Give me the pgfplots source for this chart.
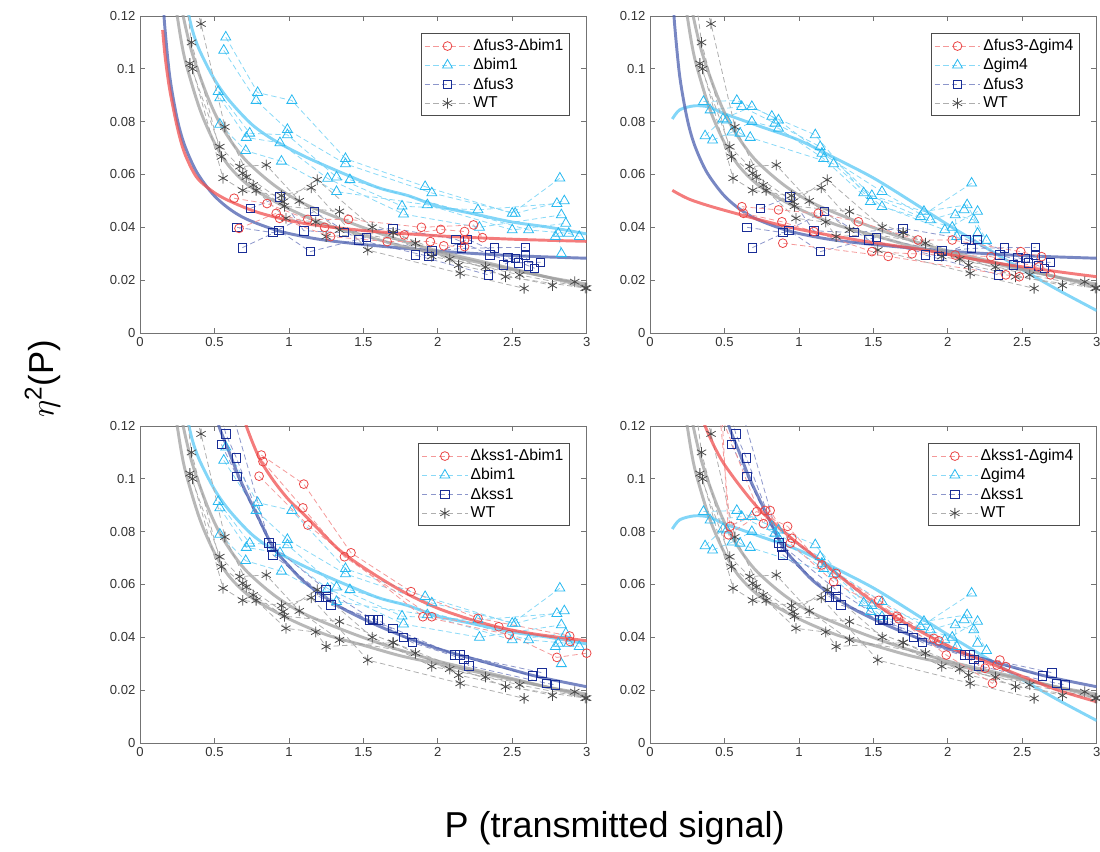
\documentclass[border=0pt]{standalone}
\usepackage{fontspec}
\setmainfont{Liberation Sans}
\usepackage{pgfplots}
\pgfplotsset{compat=1.18}

\definecolor{cred}{RGB}{235,70,70}
\definecolor{ccyan}{RGB}{40,185,240}
\definecolor{cblue}{RGB}{25,45,150}
\definecolor{cgray}{RGB}{75,75,75}
\definecolor{fred}{RGB}{240,80,80}
\definecolor{fcyan}{RGB}{90,200,245}
\definecolor{fblue}{RGB}{75,95,175}
\definecolor{fgray}{RGB}{160,160,160}

\pgfplotsset{
  rep/.style={dashed, dash pattern=on 4pt off 2.5pt, line width=0.6pt},
  repR/.style={rep, draw=cred!55, mark=o, mark size=3.3pt, mark options={solid, draw=cred, line width=0.6pt}},
  repC/.style={rep, draw=ccyan!55, mark=triangle, mark size=4.3pt, mark options={solid, draw=ccyan, line width=0.6pt}},
  repB/.style={rep, draw=cblue!50, mark=square, mark size=3.2pt, mark options={solid, draw=cblue, line width=0.6pt}},
  repG/.style={rep, draw=cgray!45, mark=asterisk, mark size=4pt, mark options={solid, draw=cgray, line width=0.6pt}},
  fit/.style={line width=2.2pt, smooth, draw opacity=0.75, no marks},
  fitR/.style={fit, draw=fred},
  fitC/.style={fit, draw=fcyan},
  fitB/.style={fit, draw=fblue},
  fitG/.style={fit, draw=fgray},
  panel/.style={
    scale only axis, width=335pt, height=237.75pt,
    xmin=0, xmax=3, ymin=0, ymax=0.12,
    xtick={0,0.5,1,1.5,2,2.5,3}, xticklabels={0,0.5,1,1.5,2,2.5,3},
    ytick={0,0.02,0.04,0.06,0.08,0.1,0.12}, yticklabels={0,0.02,0.04,0.06,0.08,0.1,0.12},
    tick align=inside, major tick length=4pt,
    axis line style={black!55}, tick style={black!55, line width=0.5pt},
    tick label style={font=\fontsize{9.8}{11}\selectfont, text=black!80},
    legend style={at={(0.962,0.946)}, anchor=north east, draw=black!70, fill=white,
      font=\fontsize{11.8}{13}\selectfont, inner sep=2.5pt, row sep=0.3pt},
    legend cell align=left,
    legend image code/.code={\draw[mark repeat=2,mark phase=2] plot coordinates {(0cm,0cm) (0.6cm,0cm) (1.2cm,0cm)};},
  },
}

% ---------- WT (all panels) ----------
\newcommand{\plotWT}{%
\addplot[repG, forget plot] coordinates {(0.32,0.135) (0.41,0.117) (0.57,0.078) (0.76,0.056) (0.97,0.048) (1.34,0.046) (1.70,0.038) (2.08,0.028) (2.55,0.022) (3.0,0.017)};
\addplot[repG, forget plot] coordinates {(0.30,0.13) (0.346,0.110) (0.547,0.0667) (0.69,0.0605) (0.96,0.0497) (1.19,0.058) (1.56,0.040) (1.96,0.029) (2.32,0.025) (2.92,0.0194)};
\addplot[repG, forget plot] coordinates {(0.335,0.102) (0.536,0.0705) (0.67,0.063) (0.848,0.0636) (1.07,0.050) (1.34,0.039) (1.85,0.034) (2.14,0.0257) (2.77,0.018)};
\addplot[repG, forget plot] coordinates {(0.353,0.100) (0.558,0.0586) (0.69,0.054) (0.95,0.052) (1.15,0.055) (1.53,0.0314) (2.15,0.0226) (2.58,0.0169)};
\addplot[repG, forget plot] coordinates {(0.714,0.059) (0.78,0.054) (0.98,0.0434) (1.18,0.042) (1.25,0.0365) (1.70,0.038) (2.455,0.0213) (2.99,0.017)};
\addplot[fitG, forget plot] coordinates {(0.24,0.125) (0.25,0.12) (0.3,0.104) (0.4,0.085) (0.5,0.072) (0.6,0.063) (0.75,0.055) (1.0,0.047) (1.25,0.041) (1.5,0.037) (1.75,0.033) (2.0,0.030) (2.25,0.027) (2.5,0.024) (2.75,0.021) (3.0,0.0185)};
\addplot[fitG, forget plot] coordinates {(0.28,0.125) (0.29,0.12) (0.35,0.106) (0.45,0.09) (0.55,0.078) (0.7,0.066) (0.9,0.056) (1.1,0.049) (1.4,0.042) (1.7,0.036) (2.0,0.031) (2.3,0.027) (2.6,0.023) (3.0,0.0175)};
}

% ---------- Delta bim1 ----------
\newcommand{\plotBim}{%
\addplot[repC, forget plot] coordinates {(0.576,0.112) (0.79,0.091) (1.02,0.088) (1.38,0.066) (1.915,0.0554) (2.5,0.0453) (2.82,0.0586)};
\addplot[repC, forget plot] coordinates {(0.5625,0.107) (0.78,0.088) (0.99,0.077) (1.38,0.064) (1.96,0.053) (2.52,0.0453) (2.85,0.050)};
\addplot[repC, forget plot] coordinates {(0.525,0.0914) (0.737,0.0756) (0.99,0.075) (1.32,0.059) (1.76,0.048) (2.27,0.0466) (2.80,0.049)};
\addplot[repC, forget plot] coordinates {(0.536,0.089) (0.714,0.074) (0.94,0.072) (1.26,0.0585) (1.77,0.045) (2.28,0.040) (2.83,0.0447)};
\addplot[repC, forget plot] coordinates {(0.536,0.079) (0.71,0.069) (0.95,0.065) (1.32,0.0535) (1.93,0.0485) (2.5,0.039) (2.86,0.0415)};
\addplot[repC, forget plot] coordinates {(1.41,0.058) (2.61,0.039) (2.88,0.0377) (2.95,0.0365)};
\addplot[repC, forget plot] coordinates {(2.79,0.0365) (2.81,0.0377) (2.83,0.030)};
\addplot[fitC, forget plot] coordinates {(0.31,0.125) (0.35,0.115) (0.4,0.107) (0.5,0.096) (0.6,0.088) (0.75,0.079) (0.9,0.073) (1.1,0.067) (1.34,0.061) (1.6,0.055) (1.8,0.052) (2.0,0.048) (2.25,0.045) (2.5,0.042) (2.75,0.040) (3.0,0.0375)};
}

% ---------- Delta gim4 ----------
\newcommand{\plotGim}{%
\addplot[repC, forget plot] coordinates {(0.359,0.0876) (0.583,0.088) (0.818,0.082) (1.11,0.075) (1.435,0.053) (1.816,0.044) (2.16,0.0567)};
\addplot[repC, forget plot] coordinates {(0.404,0.0844) (0.616,0.0857) (0.84,0.0794) (1.143,0.0705) (1.49,0.052) (1.84,0.046) (2.13,0.0485) (2.26,0.035)};
\addplot[repC, forget plot] coordinates {(0.37,0.0746) (0.49,0.081) (0.684,0.0857) (0.863,0.0806) (1.155,0.068) (1.558,0.0535) (1.883,0.0428) (2.11,0.0466)};
\addplot[repC, forget plot] coordinates {(0.42,0.073) (0.55,0.076) (0.684,0.080) (0.863,0.0775) (1.166,0.066) (1.48,0.0497) (1.98,0.039) (2.2,0.046)};
\addplot[repC, forget plot] coordinates {(0.516,0.0806) (0.605,0.0756) (0.673,0.074) (1.233,0.064) (1.558,0.0478) (2.03,0.040) (2.06,0.0365) (2.05,0.0447) (2.175,0.0428) (2.2,0.0377)};
\addplot[fitC, forget plot] coordinates {(0.15,0.081) (0.2,0.0845) (0.3,0.086) (0.4,0.0855) (0.5,0.083) (0.75,0.078) (1.0,0.073) (1.25,0.066) (1.5,0.0587) (1.75,0.050) (2.0,0.041) (2.25,0.0325) (2.5,0.024) (2.75,0.016) (3.0,0.0085)};
}

% ---------- Delta fus3 ----------
\newcommand{\plotFus}{%
\addplot[repB, forget plot] coordinates {(0.652,0.040) (0.893,0.038) (1.17,0.046) (1.47,0.0352) (1.94,0.029) (2.2,0.0355) (2.47,0.0286) (2.65,0.0245)};
\addplot[repB, forget plot] coordinates {(0.6875,0.0323) (0.933,0.0388) (1.143,0.0308) (1.52,0.0362) (1.96,0.031) (2.16,0.032) (2.38,0.0323) (2.59,0.0324)};
\addplot[repB, forget plot] coordinates {(0.743,0.0472) (0.94,0.0516) (1.10,0.0387) (1.37,0.038) (1.70,0.0396) (2.12,0.0355) (2.35,0.0295) (2.54,0.0266) (2.69,0.0268)};
\addplot[repB, forget plot] coordinates {(1.85,0.0295) (2.34,0.022) (2.44,0.0257) (2.52,0.0283) (2.59,0.0295) (2.61,0.0254)};
\addplot[fitB, forget plot] coordinates {(0.158,0.125) (0.165,0.117) (0.2,0.097) (0.25,0.081) (0.3,0.071) (0.38,0.061) (0.49,0.0525) (0.6,0.047) (0.72,0.043) (0.94,0.0385) (1.2,0.0355) (1.5,0.0335) (2.0,0.031) (2.5,0.0293) (3.0,0.0283)};
}

% ---------- Delta kss1 ----------
\newcommand{\plotKss}{%
\addplot[repB, forget plot] coordinates {(0.50,0.135) (0.576,0.117) (0.647,0.108) (0.866,0.0758) (1.25,0.058) (1.5625,0.0468) (1.77,0.040) (2.147,0.0333) (2.70,0.0266)};
\addplot[repB, forget plot] coordinates {(0.547,0.113) (0.652,0.101) (0.882,0.0743) (1.205,0.0554) (1.54,0.0466) (1.70,0.0434) (2.116,0.0333) (2.634,0.0254)};
\addplot[repB, forget plot] coordinates {(0.62,0.125) (0.893,0.0712) (1.25,0.0554) (1.283,0.0522) (1.60,0.0466) (1.83,0.038) (2.176,0.0317) (2.21,0.0292) (2.73,0.0226) (2.79,0.022)};
\addplot[fitB, forget plot] coordinates {(0.52,0.125) (0.53,0.12) (0.6,0.11) (0.67,0.10) (0.78,0.087) (0.893,0.0743) (1.0,0.067) (1.116,0.0604) (1.34,0.0516) (1.5625,0.0453) (1.786,0.040) (2.0,0.0357) (2.23,0.032) (2.45,0.0285) (2.68,0.025) (3.0,0.0213)};
}

\begin{document}
\begin{tikzpicture}
\useasboundingbox (0,0) rectangle (825pt,639pt);

% ===== top left =====
\begin{axis}[panel, at={(105pt,389.25pt)}, anchor=south west]
\addlegendimage{repR}\addlegendentry{Δfus3-Δbim1}
\addlegendimage{repC}\addlegendentry{Δbim1}
\addlegendimage{repB}\addlegendentry{Δfus3}
\addlegendimage{repG}\addlegendentry{WT}
\plotBim
\plotFus
\plotWT
\addplot[repR, forget plot] coordinates {(0.632,0.051) (0.853,0.049) (1.127,0.043) (1.40,0.043) (1.89,0.040) (2.24,0.0409) (2.30,0.0361)};
\addplot[repR, forget plot] coordinates {(0.665,0.0396) (0.915,0.0453) (1.24,0.040) (1.775,0.0371) (2.02,0.0392) (2.18,0.0384)};
\addplot[repR, forget plot] coordinates {(0.9375,0.0434) (1.28,0.0365) (1.66,0.0346) (1.95,0.0346) (2.04,0.033) (2.18,0.0327) (2.18,0.0352)};
\addplot[fitR, forget plot] coordinates {(0.152,0.1147) (0.17,0.104) (0.2,0.092) (0.25,0.078) (0.3,0.068) (0.38,0.059) (0.49,0.0535) (0.6,0.050) (0.8,0.0455) (1.1,0.0415) (1.5,0.0388) (2.0,0.0368) (2.5,0.0355) (3.0,0.0347)};
\end{axis}

% ===== top right =====
\begin{axis}[panel, at={(487.5pt,389.25pt)}, anchor=south west]
\addlegendimage{repR}\addlegendentry{Δfus3-Δgim4}
\addlegendimage{repC}\addlegendentry{Δgim4}
\addlegendimage{repB}\addlegendentry{Δfus3}
\addlegendimage{repG}\addlegendentry{WT}
\plotGim
\plotFus
\plotWT
\addplot[repR, forget plot] coordinates {(0.617,0.0478) (0.863,0.0466) (1.13,0.0453) (1.40,0.0421) (1.80,0.0352) (2.03,0.0352) (2.49,0.0308) (2.63,0.0289)};
\addplot[repR, forget plot] coordinates {(0.628,0.0453) (0.886,0.0421) (1.10,0.0384) (1.49,0.0308) (1.76,0.030) (2.05,0.0295) (2.29,0.0289) (2.61,0.025) (2.69,0.022)};
\addplot[repR, forget plot] coordinates {(0.892,0.034) (1.6,0.029) (2.39,0.022) (2.48,0.0213)};
\addplot[fitR, forget plot] coordinates {(0.15,0.054) (0.27,0.0505) (0.49,0.0466) (0.94,0.040) (1.39,0.0352) (1.84,0.0314) (2.29,0.0268) (2.74,0.0232) (3.0,0.0213)};
\end{axis}

% ===== bottom left =====
\begin{axis}[panel, at={(105pt,81.75pt)}, anchor=south west]
\addlegendimage{repR}\addlegendentry{Δkss1-Δbim1}
\addlegendimage{repC}\addlegendentry{Δbim1}
\addlegendimage{repB}\addlegendentry{Δkss1}
\addlegendimage{repG}\addlegendentry{WT}
\plotBim
\plotKss
\plotWT
\addplot[repR, forget plot] coordinates {(0.815,0.109) (1.10,0.098) (1.417,0.072) (1.82,0.0573) (2.27,0.0472) (2.886,0.0405)};
\addplot[repR, forget plot] coordinates {(0.826,0.1065) (1.094,0.089) (1.373,0.0705) (1.96,0.0478) (2.41,0.044) (2.89,0.0384)};
\addplot[repR, forget plot] coordinates {(0.80,0.101) (1.127,0.0825) (1.90,0.0478) (2.48,0.041) (2.80,0.0324) (3.0,0.034)};
\addplot[fitR, forget plot] coordinates {(0.70,0.125) (0.714,0.12) (0.8,0.108) (0.893,0.0996) (1.0,0.092) (1.116,0.0857) (1.34,0.073) (1.5625,0.0642) (1.786,0.0567) (2.0,0.051) (2.23,0.0466) (2.45,0.0433) (2.68,0.041) (3.0,0.0387)};
\end{axis}

% ===== bottom right =====
\begin{axis}[panel, at={(487.5pt,81.75pt)}, anchor=south west]
\addlegendimage{repR}\addlegendentry{Δkss1-Δgim4}
\addlegendimage{repC}\addlegendentry{Δgim4}
\addlegendimage{repB}\addlegendentry{Δkss1}
\addlegendimage{repG}\addlegendentry{WT}
\plotGim
\plotKss
\plotWT
\addplot[repR, forget plot] coordinates {(0.46,0.13) (0.538,0.082) (0.717,0.0876) (0.924,0.082) (1.155,0.0674) (1.536,0.054) (1.906,0.0396) (2.25,0.0283) (2.35,0.0314)};
\addplot[repR, forget plot] coordinates {(0.48,0.128) (0.527,0.0788) (0.773,0.088) (0.953,0.0775) (1.25,0.0642) (1.659,0.048) (1.94,0.0387) (2.33,0.0295)};
\addplot[repR, forget plot] coordinates {(0.47,0.125) (0.762,0.083) (0.807,0.088) (0.942,0.0756) (1.233,0.061) (1.67,0.047) (1.99,0.0333) (2.30,0.0226) (2.39,0.0289)};
\addplot[fitR, forget plot] coordinates {(0.36,0.125) (0.37,0.12) (0.493,0.106) (0.717,0.0895) (0.94,0.078) (1.166,0.068) (1.39,0.058) (1.61,0.049) (1.84,0.0415) (2.06,0.0352) (2.29,0.030) (2.51,0.025) (2.74,0.020) (3.0,0.0156)};
\end{axis}

\node[rotate=90, font=\fontsize{26}{30}\selectfont] at (32pt,355pt) {$\eta$\textsuperscript{2}(P)};
\node[font=\fontsize{27}{32}\selectfont] at (461pt,18pt) {P (transmitted signal)};
\end{tikzpicture}
\end{document}
